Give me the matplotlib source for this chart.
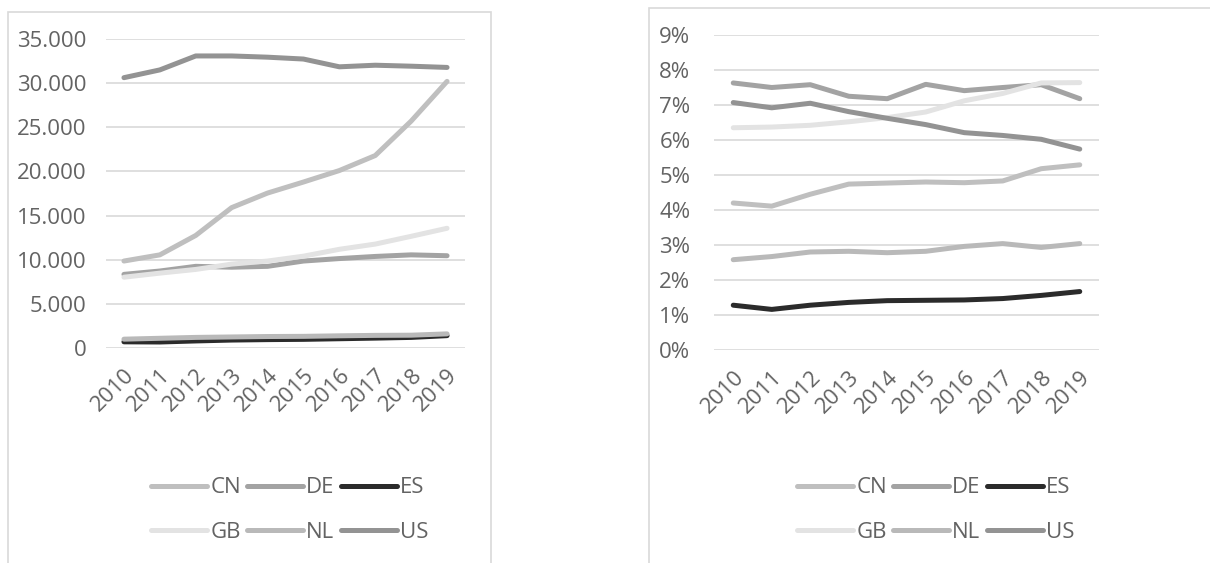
import matplotlib
matplotlib.use("Agg")
import matplotlib.pyplot as plt
from matplotlib.patches import Rectangle
from matplotlib.ticker import FuncFormatter

years = ['2010', '2011', '2012', '2013', '2014', '2015', '2016', '2017', '2018', '2019']
countries = ['CN', 'DE', 'ES', 'GB', 'NL', 'US']

# left chart: absolute values
cn_abs = [9850, 10550, 12750, 15900, 17550, 18800, 20100, 21800, 25700, 30200]
de_abs = [8340, 8720, 9250, 9150, 9250, 9850, 10130, 10370, 10550, 10450]
es_abs = [700, 680, 800, 900, 950, 980, 1050, 1120, 1200, 1400]
gb_abs = [8020, 8480, 8900, 9500, 9850, 10400, 11180, 11770, 12650, 13560]
nl_abs = [1000, 1100, 1200, 1250, 1300, 1320, 1380, 1430, 1450, 1600]
us_abs = [30620, 31500, 33080, 33080, 32940, 32730, 31850, 32030, 31920, 31780]

# right chart: shares
cn_pct = [4.20, 4.11, 4.45, 4.74, 4.77, 4.80, 4.78, 4.83, 5.18, 5.29]
de_pct = [7.63, 7.50, 7.58, 7.25, 7.18, 7.59, 7.41, 7.50, 7.58, 7.18]
es_pct = [1.28, 1.16, 1.28, 1.36, 1.41, 1.42, 1.43, 1.47, 1.56, 1.67]
gb_pct = [6.35, 6.37, 6.42, 6.52, 6.64, 6.80, 7.12, 7.33, 7.63, 7.64]
nl_pct = [2.58, 2.67, 2.80, 2.82, 2.78, 2.82, 2.96, 3.04, 2.93, 3.04]
us_pct = [7.07, 6.92, 7.05, 6.81, 6.62, 6.44, 6.21, 6.13, 6.02, 5.74]

colors = ['#bfbfbf', '#a3a3a3', '#2b2b2b', '#e3e3e3', '#b9b9b9', '#939393']
txt = '#636363'
grid = '#d9d9d9'
fs = 16

plt.rcParams['font.family'] = ['Open Sans', 'DejaVu Sans']

fig = plt.figure(figsize=(12.1, 5.63), dpi=100)

# chart borders
fig.patches.append(Rectangle((8 / 1210, -0.01), 483 / 1210, 1 - 12 / 563 + 0.01,
                             transform=fig.transFigure, fill=False, edgecolor=grid, lw=1.2))
fig.patches.append(Rectangle((649 / 1210, -0.01), 600 / 1210, 1 - 8 / 563 + 0.01,
                             transform=fig.transFigure, fill=False, edgecolor=grid, lw=1.2))

ax1 = fig.add_axes([106 / 1210, 1 - 348 / 563, 359 / 1210, 309 / 563])
ax2 = fig.add_axes([714 / 1210, 1 - 350 / 563, 385 / 1210, 315 / 563])


def style(ax, ymax, step, ypad):
    x = list(range(len(years)))
    ax.set_xlim(-0.5, len(years) - 0.5)
    ax.set_ylim(0, ymax)
    ax.set_yticks([i * step for i in range(int(round(ymax / step)) + 1)])
    ax.set_xticks(x)
    ax.set_xticklabels(years, rotation=45, ha='right', rotation_mode='anchor')
    for s in ax.spines.values():
        s.set_visible(False)
    ax.tick_params(length=0, labelsize=fs, colors=txt)
    ax.tick_params(axis='x', pad=12)
    ax.tick_params(axis='y', pad=ypad)
    ax.grid(axis='y', color=grid, lw=1.2)
    ax.set_axisbelow(True)


x = list(range(len(years)))
for name, vals, c in zip(countries, [cn_abs, de_abs, es_abs, gb_abs, nl_abs, us_abs], colors):
    ax1.plot(x, vals, color=c, lw=3.6, label=name, solid_capstyle='round', solid_joinstyle='round')
for name, vals, c in zip(countries, [cn_pct, de_pct, es_pct, gb_pct, nl_pct, us_pct], colors):
    ax2.plot(x, [v / 100 for v in vals], color=c, lw=3.6, label=name, solid_capstyle='round', solid_joinstyle='round')

style(ax1, 35000, 5000, 14)
style(ax2, 0.09, 0.01, 17)
ax1.yaxis.set_major_formatter(FuncFormatter(lambda v, p: '{:,.0f}'.format(v).replace(',', '.')))
ax2.yaxis.set_major_formatter(FuncFormatter(lambda v, p: '{:.0f}%'.format(v * 100)))

# legend fills column by column, so reorder to get CN DE ES / GB NL US rows
order = [0, 3, 1, 4, 2, 5]
for ax, cx in [(ax1, 290 / 1210), (ax2, 936 / 1210)]:
    h, l = ax.get_legend_handles_labels()
    leg = ax.legend([h[i] for i in order], [l[i] for i in order],
                    loc='center', bbox_to_anchor=(cx, 1 - 510 / 563), bbox_transform=fig.transFigure,
                    ncol=3, frameon=False, fontsize=fs, handlelength=2.5, handletextpad=0.15,
                    columnspacing=0.3, labelspacing=1.05, borderaxespad=0)
    for t in leg.get_texts():
        t.set_color(txt)

plt.savefig('out.png', dpi=100)
